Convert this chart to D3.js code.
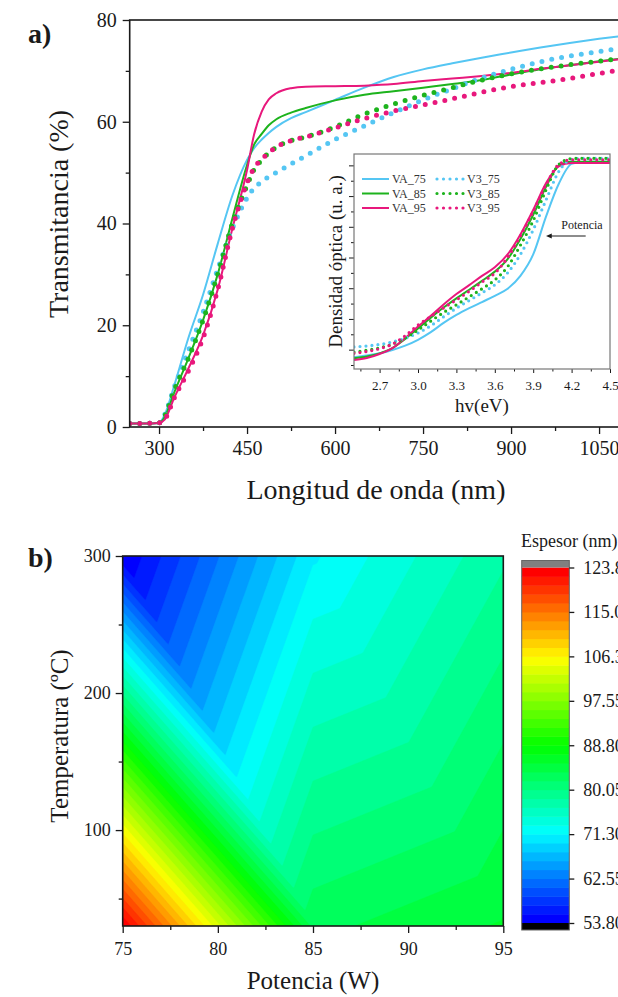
<!DOCTYPE html>
<html>
<head>
<meta charset="utf-8">
<script src="https://cdn.jsdelivr.net/npm/d3@7"></script>
<style>
  html, body { margin: 0; padding: 0; background: #fff; }
  svg { display: block; font-family: "Liberation Serif", "Times New Roman", serif; }
</style>
</head>
<body>
<svg id="fig" width="618" height="997"></svg>
<script>
// ---------- Panel a: transmittance spectra ----------
const wavelength = [250, 275, 300, 310, 325, 350, 375, 400, 425, 450, 462, 475, 487, 500, 525, 550,
                    600, 650, 700, 750, 800, 850, 900, 950, 1000, 1050, 1100];
const tVA75 = [0.7, 0.7, 0.8, 2.5, 7.8, 17.5, 26.0, 36.0, 45.5, 52.5, 54.8, 56.5, 57.8, 59.0, 60.7, 61.9,
               64.3, 66.7, 68.8, 70.3, 71.5, 72.6, 73.6, 74.6, 75.5, 76.3, 77.0];
const tVA85 = [0.7, 0.7, 0.8, 2.0, 6.5, 13.5, 21.0, 30.0, 41.0, 51.5, 55.5, 57.6, 59.3, 60.5, 61.8, 62.7,
               64.2, 65.3, 66.0, 66.7, 67.4, 68.2, 69.3, 70.3, 71.1, 71.9, 72.6];
const tVA95 = [0.7, 0.7, 0.8, 1.5, 5.5, 11.5, 18.0, 27.0, 39.0, 50.5, 57.5, 62.0, 64.4, 65.6, 66.6, 66.9,
               67.0, 67.1, 67.4, 68.0, 68.5, 69.0, 69.6, 70.4, 71.1, 71.8, 72.5];
const tV375 = [0.7, 0.7, 0.8, 2.5, 7.5, 15.0, 22.5, 31.0, 39.0, 45.0, 47.0, 48.2, 49.2, 50.0, 51.7, 53.3,
               56.5, 59.2, 61.8, 64.3, 66.5, 68.6, 70.3, 71.8, 72.9, 73.8, 74.6];
const tV385 = [0.7, 0.7, 0.8, 2.2, 7.0, 13.5, 21.0, 30.0, 40.0, 47.5, 50.6, 52.5, 53.9, 55.0, 56.3, 57.0,
               59.0, 61.5, 63.5, 65.2, 66.7, 68.2, 69.4, 70.4, 71.2, 71.9, 72.6];
const tV395 = [0.7, 0.7, 0.8, 1.5, 5.5, 11.0, 17.5, 27.0, 39.0, 48.0, 50.9, 52.6, 53.9, 55.0, 56.3, 57.0,
               58.8, 60.6, 62.1, 63.3, 64.5, 65.8, 66.9, 67.7, 68.5, 69.5, 70.4];
const xTicksA = [300, 450, 600, 750, 900, 1050];
const yTicksA = [0, 20, 40, 60, 80];

// ---------- Inset: optical density vs photon energy ----------
const energy = [2.5, 2.6, 2.7, 2.8, 2.9, 3.0, 3.1, 3.2, 3.3, 3.4, 3.5, 3.6, 3.7, 3.8, 3.9,
                4.0, 4.1, 4.2, 4.3, 4.4, 4.5];
const odVA75 = [-0.025, -0.019, -0.012, -0.001, 0.013, 0.032, 0.057, 0.087, 0.113, 0.135, 0.155,
                0.175, 0.198, 0.240, 0.310, 0.433, 0.540, 0.605, 0.612, 0.612, 0.612];
const odVA85 = [-0.028, -0.022, -0.012, 0.005, 0.035, 0.069, 0.104, 0.137, 0.167, 0.195, 0.224,
                0.254, 0.295, 0.360, 0.439, 0.530, 0.600, 0.612, 0.612, 0.612, 0.612];
const odVA95 = [-0.034, -0.027, -0.014, 0.005, 0.038, 0.075, 0.110, 0.147, 0.181, 0.210, 0.240,
                0.268, 0.310, 0.375, 0.455, 0.542, 0.597, 0.608, 0.608, 0.608, 0.608];
const odV375 = [0.009, 0.012, 0.017, 0.025, 0.037, 0.054, 0.078, 0.107, 0.135, 0.160, 0.185,
                0.211, 0.250, 0.310, 0.390, 0.487, 0.580, 0.620, 0.623, 0.623, 0.623];
const odV385 = [-0.008, -0.002, 0.006, 0.018, 0.038, 0.064, 0.093, 0.121, 0.146, 0.172, 0.198,
                0.227, 0.270, 0.340, 0.420, 0.520, 0.603, 0.622, 0.623, 0.623, 0.623];
const odV395 = [-0.012, -0.006, 0.003, 0.018, 0.045, 0.080, 0.108, 0.136, 0.162, 0.190, 0.220,
                0.249, 0.300, 0.370, 0.450, 0.536, 0.603, 0.618, 0.618, 0.618, 0.618];
const insetTicks = [2.7, 3.0, 3.3, 3.6, 3.9, 4.2, 4.5];

const seriesNames = ["VA_75", "VA_85", "VA_95", "V3_75", "V3_85", "V3_95"];
const seriesColors = ["#55c6f3", "#1db31d", "#e8187c", "#55c6f3", "#1db31d", "#e8187c"];
const seriesDotted = [false, false, false, true, true, true];
const transSeries = [tVA75, tVA85, tVA95, tV375, tV385, tV395];
const odSeries = [odVA75, odVA85, odVA95, odV375, odV385, odV395];

// ---------- Panel b: thickness map ----------
const potencia = [75, 85, 95];              // W
const temperatura = [30, 300];              // ºC
const espesorT30 = [123.8, 83.0, 85.5];     // nm at 30 ºC
const espesorT300 = [53.8, 71.0, 78.0];     // nm at 300 ºC
const xTicksB = [75, 80, 85, 90, 95];
const yTicksB = [100, 200, 300];
const cbarMin = 53.8, cbarMax = 123.8, nBands = 40;

const svg = d3.select("#fig");
const ink = "#1a1a1a";

function styleAxis(g, fontSize) {
  g.selectAll(".domain").remove();
  g.selectAll(".tick line").attr("stroke", ink).attr("stroke-width", 1.3);
  g.selectAll(".tick text").attr("fill", ink).attr("font-size", fontSize)
    .attr("font-family", "Liberation Serif, Times New Roman, serif");
}

// =============== Panel a ===============
const A = { l: 129.7, t: 20, r: 628.4, b: 427 };
const xA = d3.scaleLinear().domain([250, 1100]).range([A.l, A.r]);
const yA = d3.scaleLinear().domain([0, 80]).range([A.b, A.t]);

svg.append("clipPath").attr("id", "clipA")
  .append("rect").attr("x", A.l).attr("y", A.t).attr("width", A.r - A.l).attr("height", A.b - A.t);

const gA = svg.append("g");
const lineA = d3.line().x(d => xA(d[0])).y(d => yA(d[1])).curve(d3.curveMonotoneX);
const curvesA = gA.append("g").attr("clip-path", "url(#clipA)");
transSeries.forEach((vals, i) => {
  const p = curvesA.append("path")
    .attr("d", lineA(wavelength.map((w, k) => [w, vals[k]])))
    .attr("fill", "none").attr("stroke", seriesColors[i]);
  if (seriesDotted[i]) {
    p.attr("stroke-width", 5).attr("stroke-linecap", "round").attr("stroke-dasharray", "0 10");
  } else {
    p.attr("stroke-width", 2).attr("stroke-linejoin", "round");
  }
});

// axes for panel a
gA.append("g").attr("transform", `translate(0,${A.b})`)
  .call(d3.axisBottom(xA).tickValues(d3.range(375, 1101, 150)).tickSize(4).tickFormat(""))
  .call(g => styleAxis(g, 20));
gA.append("g").attr("transform", `translate(0,${A.b})`)
  .call(d3.axisBottom(xA).tickValues(xTicksA).tickSize(7).tickPadding(7).tickFormat(d3.format("d")))
  .call(g => styleAxis(g, 20));
gA.append("g").attr("transform", `translate(${A.l},0)`)
  .call(d3.axisLeft(yA).tickValues([10, 30, 50, 70]).tickSize(4).tickFormat(""))
  .call(g => styleAxis(g, 20));
gA.append("g").attr("transform", `translate(${A.l},0)`)
  .call(d3.axisLeft(yA).tickValues(yTicksA).tickSize(7).tickPadding(6).tickFormat(d3.format("d")))
  .call(g => styleAxis(g, 20));
gA.append("rect").attr("x", A.l).attr("y", A.t).attr("width", A.r - A.l).attr("height", A.b - A.t)
  .attr("fill", "none").attr("stroke", ink).attr("stroke-width", 1.6);

gA.append("text").attr("x", 376).attr("y", 499).attr("text-anchor", "middle")
  .attr("font-size", 28).attr("fill", ink).text("Longitud de onda (nm)");
gA.append("text").attr("transform", "translate(68,214) rotate(-90)").attr("text-anchor", "middle")
  .attr("font-size", 28).attr("fill", ink).text("Transmitancia (%)");
gA.append("text").attr("x", 28).attr("y", 43).attr("font-size", 28).attr("font-weight", "bold")
  .attr("fill", ink).text("a)");

// =============== Inset ===============
const I = { l: 354, t: 154, r: 610, b: 369 };
const xI = d3.scaleLinear().domain([2.5, 4.5]).range([I.l, I.r]);
const yI = d3.scaleLinear().domain([-0.063, 0.637]).range([I.b, I.t]);
const gI = svg.append("g");
gI.append("rect").attr("x", I.l).attr("y", I.t).attr("width", I.r - I.l).attr("height", I.b - I.t)
  .attr("fill", "#fff");
svg.append("clipPath").attr("id", "clipI")
  .append("rect").attr("x", I.l).attr("y", I.t).attr("width", I.r - I.l).attr("height", I.b - I.t);
const lineI = d3.line().x(d => xI(d[0])).y(d => yI(d[1])).curve(d3.curveMonotoneX);
const curvesI = gI.append("g").attr("clip-path", "url(#clipI)");
odSeries.forEach((vals, i) => {
  const p = curvesI.append("path")
    .attr("d", lineI(energy.map((e, k) => [e, vals[k]])))
    .attr("fill", "none").attr("stroke", seriesColors[i]);
  if (seriesDotted[i]) {
    p.attr("stroke-width", 3.2).attr("stroke-linecap", "round").attr("stroke-dasharray", "0 6");
  } else {
    p.attr("stroke-width", 2).attr("stroke-linejoin", "round");
  }
});
gI.append("g").attr("transform", `translate(0,${I.b})`)
  .call(d3.axisBottom(xI).tickValues([2.55, 2.85, 3.15, 3.45, 3.75, 4.05, 4.35]).tickSize(2.5).tickFormat(""))
  .call(g => styleAxis(g, 13));
gI.append("g").attr("transform", `translate(0,${I.b})`)
  .call(d3.axisBottom(xI).tickValues(insetTicks).tickSize(4).tickPadding(8).tickFormat(d3.format(".1f")))
  .call(g => styleAxis(g, 13));
gI.append("g").attr("transform", `translate(${I.l},0)`)
  .call(d3.axisLeft(yI).tickValues(d3.range(-0.05, 0.64, 0.1)).tickSize(3).tickFormat(""))
  .call(g => styleAxis(g, 13));
gI.append("g").attr("transform", `translate(${I.l},0)`)
  .call(d3.axisLeft(yI).tickValues(d3.range(0, 0.61, 0.1)).tickSize(5).tickFormat(""))
  .call(g => styleAxis(g, 13));
gI.selectAll(".tick line").attr("stroke-width", 1);
gI.append("rect").attr("x", I.l).attr("y", I.t).attr("width", I.r - I.l).attr("height", I.b - I.t)
  .attr("fill", "none").attr("stroke", "#777").attr("stroke-width", 1.2);
gI.append("text").attr("x", (I.l + I.r) / 2).attr("y", 412).attr("text-anchor", "middle")
  .attr("font-size", 19).attr("fill", ink).text("hv(eV)");
gI.append("text").attr("transform", `translate(342,${(I.t + I.b) / 2}) rotate(-90)`)
  .attr("text-anchor", "middle").attr("font-size", 19).attr("fill", ink).text("Densidad óptica (u. a.)");

// legend
const legRows = [179, 193.5, 208];
seriesNames.forEach((name, i) => {
  const col = i < 3 ? 0 : 1;
  const row = i % 3;
  const x0 = col === 0 ? 362 : 437;
  const y0 = legRows[row];
  const s = gI.append("line").attr("x1", x0).attr("x2", x0 + 27).attr("y1", y0).attr("y2", y0)
    .attr("stroke", seriesColors[i]);
  if (seriesDotted[i]) s.attr("stroke-width", 3.2).attr("stroke-linecap", "round").attr("stroke-dasharray", "0 6.5");
  else s.attr("stroke-width", 2);
  gI.append("text").attr("x", x0 + 30).attr("y", y0 + 4).attr("font-size", 12).attr("fill", "#333").text(name);
});

// power arrow annotation
gI.append("text").attr("x", xI(4.12)).attr("y", yI(0.393)).attr("font-size", 12).attr("fill", ink).text("Potencia");
gI.append("line").attr("x1", xI(4.31)).attr("x2", xI(4.03)).attr("y1", yI(0.37)).attr("y2", yI(0.37))
  .attr("stroke", ink).attr("stroke-width", 1);
gI.append("path")
  .attr("d", `M${xI(4.0)},${yI(0.37)} L${xI(4.045)},${yI(0.37) - 2.5} L${xI(4.045)},${yI(0.37) + 2.5} Z`)
  .attr("fill", ink);

// =============== Panel b ===============
const B = { l: 122.7, t: 556, r: 503.3, b: 926 };
const xB = d3.scaleLinear().domain([75, 95]).range([B.l, B.r]);
const yB = d3.scaleLinear().domain([30, 300]).range([B.b, B.t]);

// linear interpolation over triangles split along the upper-left / lower-right diagonal
function thickness(P, T) {
  let k = d3.bisectRight(potencia, P) - 1;
  k = Math.max(0, Math.min(potencia.length - 2, k));
  const u = (P - potencia[k]) / (potencia[k + 1] - potencia[k]);
  const v = (T - temperatura[0]) / (temperatura[1] - temperatura[0]);
  const z00 = espesorT30[k], z10 = espesorT30[k + 1];
  const z01 = espesorT300[k], z11 = espesorT300[k + 1];
  if (u + v <= 1) return z00 + (z10 - z00) * u + (z01 - z00) * v;
  return z11 + (z01 - z11) * (1 - u) + (z10 - z11) * (1 - v);
}

const nx = Math.round(B.r - B.l), ny = Math.round(B.b - B.t);
const grid = new Float64Array(nx * ny);
for (let j = 0; j < ny; j++) {
  const T = yB.invert(B.t + (j + 0.5) * (B.b - B.t) / ny);
  for (let i = 0; i < nx; i++) {
    const P = xB.invert(B.l + (i + 0.5) * (B.r - B.l) / nx);
    grid[j * nx + i] = thickness(P, T);
  }
}
const step = (cbarMax - cbarMin) / nBands;
const levels = d3.range(nBands + 1).map(k => cbarMin + k * step);
const rainbow = d3.scaleLinear().domain([0, 0.25, 0.5, 0.75, 1])
  .range(["#0000ff", "#00ffff", "#00ff00", "#ffff00", "#ff0000"]);
const bandColor = k => rainbow(k / (nBands - 1));

const thresholds = levels.slice(0, nBands).map((t, k) => (k === 0 ? t - 1 : t));
const contours = d3.contours().size([nx, ny]).thresholds(thresholds)(grid);

svg.append("clipPath").attr("id", "clipB")
  .append("rect").attr("x", B.l).attr("y", B.t).attr("width", B.r - B.l).attr("height", B.b - B.t);
const gB = svg.append("g");
gB.append("g").attr("clip-path", "url(#clipB)")
  .append("g").attr("transform", `translate(${B.l},${B.t}) scale(${(B.r - B.l) / nx},${(B.b - B.t) / ny})`)
  .selectAll("path").data(contours).join("path")
  .attr("d", d3.geoPath())
  .attr("fill", (d, k) => bandColor(k))
  .attr("stroke", (d, k) => bandColor(k)).attr("stroke-width", 0.4);

gB.append("g").attr("transform", `translate(0,${B.b})`)
  .call(d3.axisBottom(xB).tickValues([77.5, 82.5, 87.5, 92.5]).tickSize(4).tickFormat(""))
  .call(g => styleAxis(g, 18));
gB.append("g").attr("transform", `translate(0,${B.b})`)
  .call(d3.axisBottom(xB).tickValues(xTicksB).tickSize(7).tickPadding(9).tickFormat(d3.format("d")))
  .call(g => styleAxis(g, 18));
gB.append("g").attr("transform", `translate(${B.l},0)`)
  .call(d3.axisLeft(yB).tickValues([50, 150, 250]).tickSize(4).tickFormat(""))
  .call(g => styleAxis(g, 18));
gB.append("g").attr("transform", `translate(${B.l},0)`)
  .call(d3.axisLeft(yB).tickValues(yTicksB).tickSize(7).tickPadding(5).tickFormat(d3.format("d")))
  .call(g => styleAxis(g, 18));
gB.append("rect").attr("x", B.l).attr("y", B.t).attr("width", B.r - B.l).attr("height", B.b - B.t)
  .attr("fill", "none").attr("stroke", ink).attr("stroke-width", 1.6);

gB.append("text").attr("x", (B.l + B.r) / 2).attr("y", 989).attr("text-anchor", "middle")
  .attr("font-size", 25).attr("fill", ink).text("Potencia (W)");
gB.append("text").attr("transform", `translate(68,736) rotate(-90)`).attr("text-anchor", "middle")
  .attr("font-size", 25).attr("fill", ink).text("Temperatura (ºC)");
gB.append("text").attr("x", 28).attr("y", 567).attr("font-size", 28).attr("font-weight", "bold")
  .attr("fill", ink).text("b)");

// colour bar
const C = { l: 521.7, r: 569.3 };
const yC = d3.scaleLinear().domain([cbarMin, cbarMax]).range([923, 567.5]);
const gC = svg.append("g");
gC.selectAll("rect.band").data(d3.range(nBands)).join("rect").attr("class", "band")
  .attr("x", C.l).attr("width", C.r - C.l)
  .attr("y", k => yC(levels[k + 1])).attr("height", k => yC(levels[k]) - yC(levels[k + 1]) + 0.5)
  .attr("fill", k => bandColor(k));
gC.append("rect").attr("x", C.l).attr("width", C.r - C.l).attr("y", yC(cbarMax) - 7).attr("height", 7)
  .attr("fill", "#808080");
gC.append("rect").attr("x", C.l).attr("width", C.r - C.l).attr("y", yC(cbarMin)).attr("height", 7)
  .attr("fill", "#000");
gC.append("rect").attr("x", C.l).attr("width", C.r - C.l).attr("y", yC(cbarMax) - 7)
  .attr("height", yC(cbarMin) - yC(cbarMax) + 14)
  .attr("fill", "none").attr("stroke", "#666").attr("stroke-width", 1);
const cbTicks = d3.range(9).map(m => cbarMin + m * (cbarMax - cbarMin) / 8);
gC.append("g").attr("transform", `translate(${C.r},0)`)
  .call(d3.axisRight(yC).tickValues(cbTicks).tickSize(5).tickPadding(9).tickFormat(d3.format(".2f")))
  .call(g => styleAxis(g, 18));
gC.append("text").attr("x", 521).attr("y", 547).attr("font-size", 18).attr("fill", ink).text("Espesor (nm)");
</script>
</body>
</html>
